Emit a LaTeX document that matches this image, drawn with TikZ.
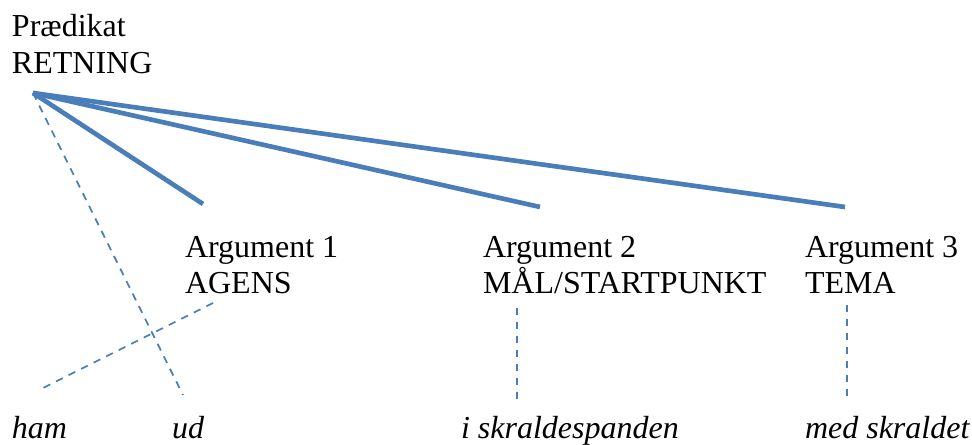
\documentclass[tikz,border=0pt]{standalone}
\usepackage{fontspec}
\setmainfont{Liberation Serif}
\definecolor{linkblue}{HTML}{4A7EBB}
\tikzset{
  lbl/.style={anchor=base west, inner sep=0pt, outer sep=0pt, font=\fontsize{24}{28}\selectfont},
  word/.style={lbl, font=\fontsize{24}{28}\selectfont\itshape},
  roleline/.style={draw=linkblue, line width=3.5pt, line cap=butt},
  linkdash/.style={draw=linkblue, line width=1.3pt, dash pattern=on 5.6pt off 4.9pt}
}
\begin{document}
\begin{tikzpicture}[x=0.75pt,y=-0.75pt]
\useasboundingbox (0,0) rectangle (972,445);
% texts
\node[lbl] (pred1) at (12,37) {Prædikat};
\node[lbl] (pred2) at (12,74) {RETNING};
\node[lbl] (arg1a) at (185,258) {Argument 1};
\node[lbl] (arg1b) at (185,294) {AGENS};
\node[lbl] (arg2a) at (483,258) {Argument 2};
\node[lbl] (arg2b) at (483,294) {MÅL/STARTPUNKT};
\node[lbl] (arg3a) at (805,258) {Argument 3};
\node[lbl] (arg3b) at (805,294) {TEMA};
\node[word] (wham) at (12,439) {ham};
\node[word] (wud) at (172,439) {ud};
\node[word] (wspand) at (461,439) {i skraldespanden};
\node[word] (wskrald) at (805,439) {med skraldet};
% coordinates
\coordinate (hub) at (33,93);
\coordinate (e1) at (203,204);
\coordinate (e2) at (540,207);
\coordinate (e3) at (845,207);
\coordinate (udend) at (183,395);
\coordinate (agtop) at (213,303);
\coordinate (hamtop) at (43,388);
\coordinate (m2top) at (517,308);
\coordinate (m2bot) at (517,400);
\coordinate (m3top) at (847,305);
\coordinate (m3bot) at (847,398);
% solid lines
\draw[roleline] (hub) -- (e1);
\draw[roleline] (hub) -- (e2);
\draw[roleline] (hub) -- (e3);
% dashed lines
\draw[linkdash] (hub) -- (udend);
\draw[linkdash] (agtop) -- (hamtop);
\draw[linkdash] (m2top) -- (m2bot);
\draw[linkdash] (m3top) -- (m3bot);
\end{tikzpicture}
\end{document}
